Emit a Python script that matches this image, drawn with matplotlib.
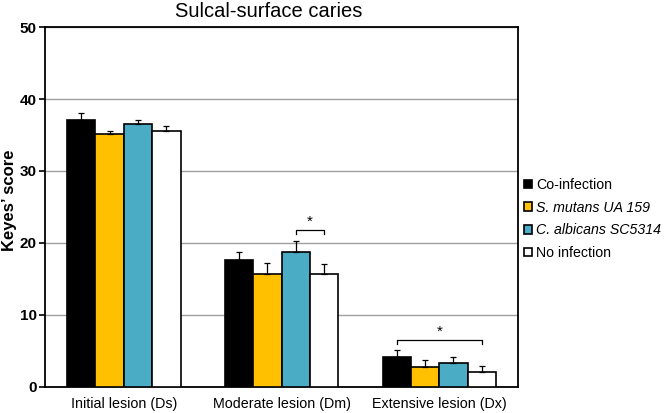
import numpy as np
import matplotlib.pyplot as plt
from matplotlib.patches import Patch

plt.rcParams['font.family'] = ['Liberation Sans', 'DejaVu Sans']

# Datos
groups = ['Initial lesion (Ds)', 'Moderate lesion (Dm)', 'Extensive lesion (Dx)']
series = ['Co-infection', 'S. mutans UA 159', 'C. albicans SC5314', 'No infection']
coinfection = [37.1, 17.7, 4.1]
coinfection_err = [1.0, 1.0, 1.0]
smutans = [35.1, 15.7, 2.8]
smutans_err = [0.4, 1.5, 0.9]
calbicans = [36.5, 18.8, 3.3]
calbicans_err = [0.6, 1.5, 0.85]
noinfection = [35.6, 15.7, 2.1]
noinfection_err = [0.6, 1.4, 0.75]

values = [coinfection, smutans, calbicans, noinfection]
errors = [coinfection_err, smutans_err, calbicans_err, noinfection_err]
colors = ['#000000', '#FFC000', '#4BACC6', '#FFFFFF']

fig = plt.figure(figsize=(6.66, 4.13), dpi=100)
ax = fig.add_axes([0.0676, 0.063, 0.7104, 0.8716])

x = np.arange(len(groups))
width = 0.18
offsets = (np.arange(4) - 1.5) * width

for i in range(4):
    ax.bar(x + offsets[i], values[i], width, color=colors[i], edgecolor='black',
           linewidth=1.2, zorder=3)
    ax.errorbar(x + offsets[i], values[i], yerr=[np.zeros(3), errors[i]], fmt='none',
                ecolor='black', elinewidth=0.9, capsize=2.2, capthick=0.9, zorder=4)

# Corchetes de significancia
def bracket(x1, x2, y, h, ax):
    ax.plot([x1, x1, x2, x2], [y - h, y, y, y - h], color='black', lw=0.9, zorder=5)
    ax.text((x1 + x2) / 2, y + 0.2, '*', ha='center', va='bottom', fontsize=11)

bracket(x[1] + offsets[2], x[1] + offsets[3], 21.8, 0.6, ax)
bracket(x[2] + offsets[0], x[2] + offsets[3], 6.5, 0.5, ax)

ax.set_xlim(-0.5, 2.5)
ax.set_ylim(0, 50)
ax.set_yticks([0, 10, 20, 30, 40, 50])
ax.set_xticks(x)
ax.set_xticklabels(groups, fontsize=10.3)
ax.tick_params(axis='x', length=0, pad=7)
ax.tick_params(axis='y', length=4, width=1.2, labelsize=11, direction='out', pad=2)
for lab in ax.get_yticklabels():
    lab.set_fontweight('bold')
ax.yaxis.grid(True, color='#A0A0A0', linewidth=1.0, zorder=0)
ax.set_axisbelow(True)
for s in ax.spines.values():
    s.set_linewidth(1.3)
fig.text(0.014, 0.516, 'Keyes\u2019 score', rotation=90, ha='center', va='center',
         fontsize=12, fontweight='bold')
fig.text(0.404, 0.972, 'Sulcal-surface caries', ha='center', va='center', fontsize=14.5)

handles = [Patch(facecolor=c, edgecolor='black', linewidth=1.2) for c in colors]
leg = fig.legend(handles, series, loc='upper left', bbox_to_anchor=(0.779, 0.583),
                 frameon=False, handlelength=0.55, handleheight=0.55, handletextpad=0.25,
                 labelspacing=0.62, fontsize=10.2, borderaxespad=0)
for t in leg.get_texts()[1:3]:
    t.set_fontstyle('italic')

fig.savefig('out.png', dpi=100)
